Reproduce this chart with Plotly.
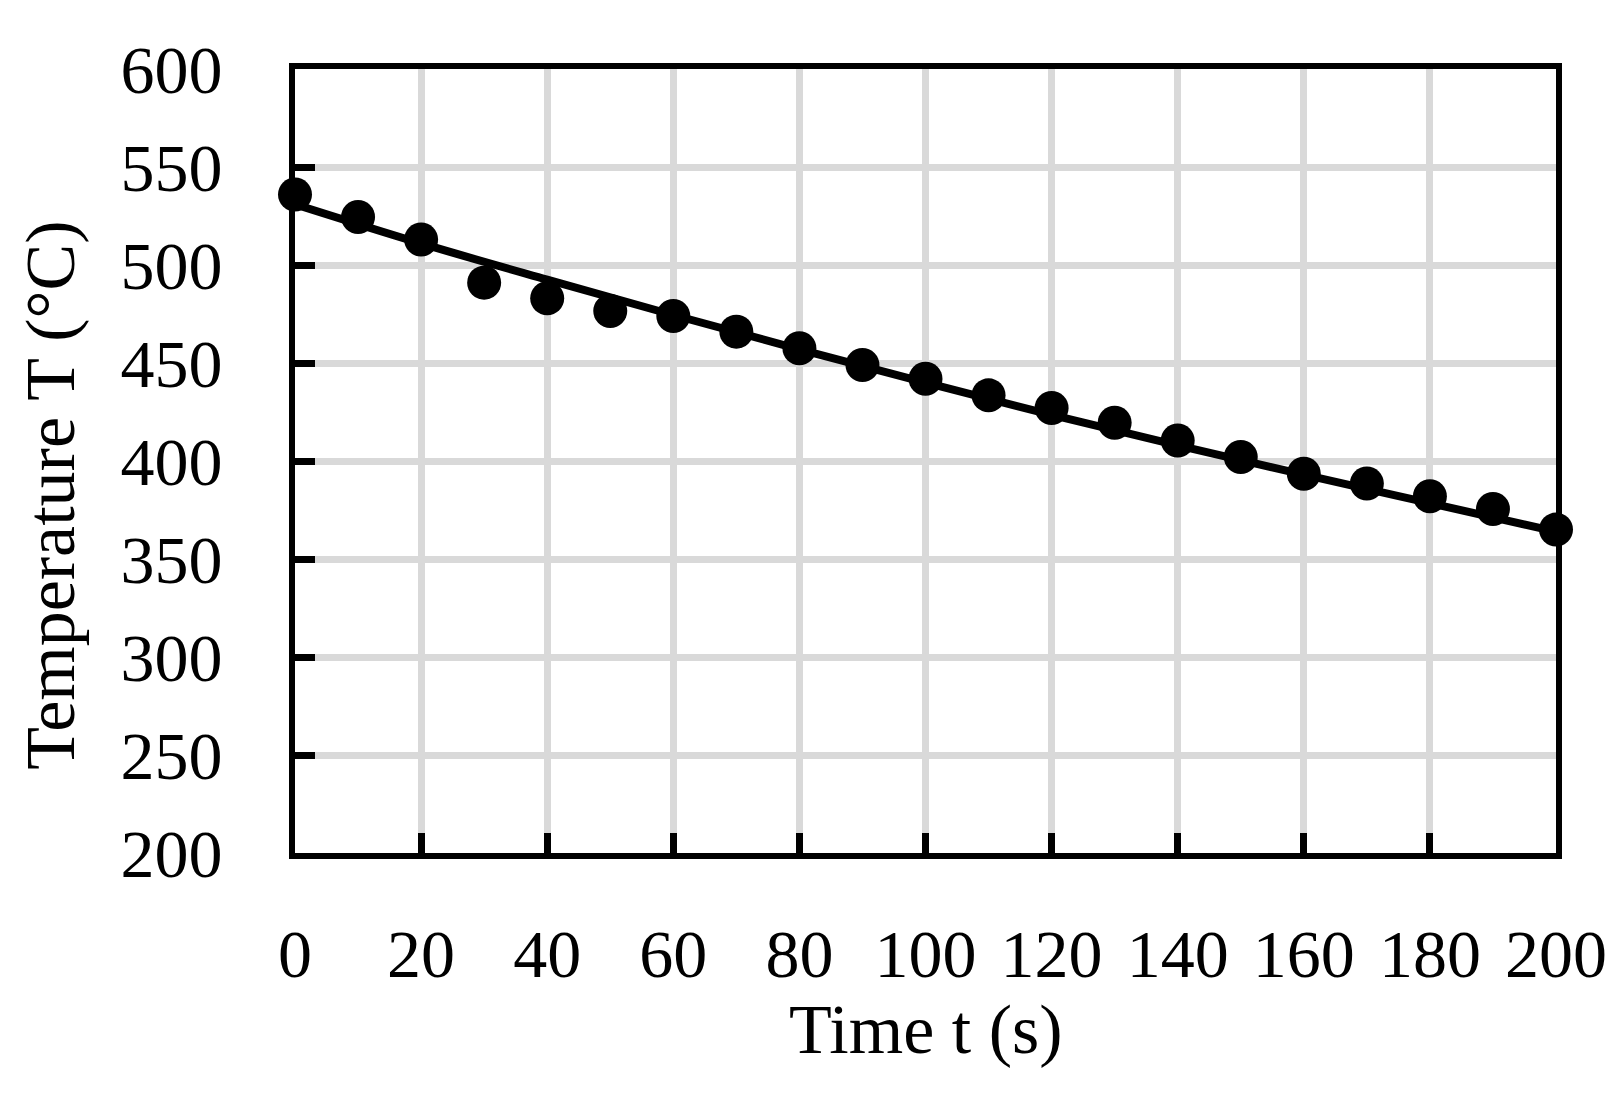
import plotly.graph_objects as go

time_s = [0, 10, 20, 30, 40, 50, 60, 70, 80, 90, 100,
          110, 120, 130, 140, 150, 160, 170, 180, 190, 200]
temp_c = [536, 524.5, 513, 491, 483, 476.5, 474, 466, 457.5, 449, 442,
          433.5, 427, 419.5, 410.5, 402, 393.5, 388.5, 382, 375.5, 365]

# fitted curve, read at every 20 s
fit_t = [0, 20, 40, 60, 80, 100, 120, 140, 160, 180, 200]
fit_temp = [531, 511, 492.5, 474.5, 457, 440, 423.5, 408, 393, 378.5, 364]

x_ticks = list(range(0, 201, 20))
y_ticks = list(range(200, 601, 50))

font_name = "Liberation Serif"

fig = go.Figure()
fig.add_trace(go.Scatter(x=fit_t, y=fit_temp, mode="lines", line_shape="spline",
                         line=dict(color="black", width=8), cliponaxis=False,
                         showlegend=False, hoverinfo="skip"))
fig.add_trace(go.Scatter(x=time_s, y=temp_c, mode="markers", cliponaxis=False,
                         marker=dict(color="black", size=34), showlegend=False))

axis_style = dict(showline=True, linecolor="black", linewidth=6, mirror=True,
                  showgrid=True, gridcolor="#D9D9D9", gridwidth=7,
                  ticks="inside", ticklen=20, tickwidth=7, tickcolor="black",
                  zeroline=False,
                  tickfont=dict(family=font_name, size=68, color="black"))

fig.update_xaxes(range=[0, 200], tickvals=x_ticks, ticklabelstandoff=36, **axis_style)
fig.update_yaxes(range=[200, 600], tickvals=y_ticks, ticklabelstandoff=53, **axis_style)

fig.update_layout(
    width=1621, height=1100,
    margin=dict(l=287, r=73, t=61, b=255),
    plot_bgcolor="white", paper_bgcolor="white",
    font=dict(family=font_name, color="black"),
    annotations=[
        dict(text="Time t (s)", x=0.5, y=-0.225, xref="paper", yref="paper",
             xanchor="center", yanchor="middle",
             showarrow=False, font=dict(size=70)),
        dict(text="Temperature T (°C)", x=-0.1935, y=0.457, xref="paper", yref="paper",
             xanchor="center", yanchor="middle",
             showarrow=False, textangle=-90, font=dict(size=70)),
    ],
)

fig.write_html("out.html")
